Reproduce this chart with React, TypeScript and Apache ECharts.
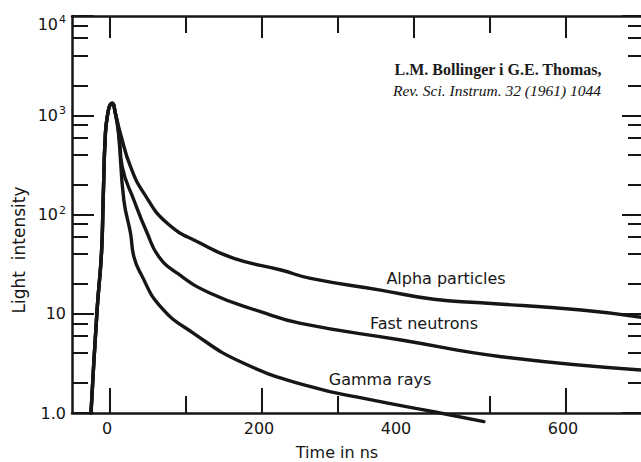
import React, { useEffect, useRef } from "react";
import * as echarts from "echarts";

// ---- data (time in ns, light intensity) ----
const riseT = [-25, -17, -11.2, -9, -6, -2.6, 0, 2.9];
const riseI = [1.0, 10.9, 40.9, 140, 662, 1070, 1268, 1320];

const alphaT = [7, 13.8, 27, 44.5, 75.4, 119, 163, 225, 264, 356, 426, 488, 620, 700];
const alphaI = [1050, 650, 303, 164, 81.5, 51.3, 36.2, 27.6, 22.7, 17.3, 14.0, 12.9, 10.9, 9.2];

const neutronT = [7, 11.9, 16.1, 31.4, 49, 64.3, 88.5, 132, 198, 251, 383, 515, 700];
const neutronI = [1050, 650, 303, 140, 64.7, 37.6, 25.6, 16.1, 10.5, 8.0, 5.44, 3.69, 2.71];

const gammaT = [7, 11.2, 18.2, 27, 31.4, 40.2, 66.5, 110, 176, 264, 339, 426, 492];
const gammaI = [1050, 650, 140, 64.7, 37.6, 25.6, 11.8, 6.35, 3.17, 1.84, 1.38, 1.03, 0.82];

const seriesNames = ["Alpha particles", "Fast neutrons", "Gamma rays"];

// ---- axes ----
const xLabels = [0, 200, 400, 600];
const xMinorTicks = [100, 300, 500];
const xBottomMajorTicks = [0, 200, 600];
const yMajor = [1, 10, 100, 1000, 10000];
const yLabelBase = ["1.0", "10", "10", "10", "10"];
const yLabelExp = ["", "", "2", "3", "4"];
const yMinorMult = [2, 4, 6, 8];

const xName = "Time in ns";
const yName = "Light  intensity";
const citation1 = "L.M. Bollinger i G.E. Thomas,";
const citation2 = "Rev. Sci. Instrum. 32 (1961) 1044";

const INK = "#161616";
const FONT = "DejaVu Sans";

function pairs(t: number[], v: number[]) {
  return t.map((x, i) => [x, v[i]]);
}

export default function App() {
  const ref = useRef<HTMLDivElement>(null);
  useEffect(() => {
    if (!ref.current) return;
    const chart = echarts.init(ref.current, undefined, { renderer: "svg" });
    const yMinor: number[] = [];
    yMajor.slice(0, -1).forEach((d) => yMinorMult.forEach((m) => yMinor.push(d * m)));

    const rise = pairs(riseT, riseI);
    const curves = [pairs(alphaT, alphaI), pairs(neutronT, neutronI), pairs(gammaT, gammaI)];

    const axisLine = { show: true, onZero: false, lineStyle: { color: INK, width: 2.5 } };
    const noLine = { show: false, onZero: false };
    const tickStyle = { color: INK, width: 2 };
    const xBase = { type: "value", min: -50, max: 700, gridIndex: 0, splitLine: { show: false } };
    const yBase = { type: "log", logBase: 10, min: 1, max: 10000, gridIndex: 0, splitLine: { show: false }, minorTick: { show: false } };

    const option: any = {
      animation: false,
      backgroundColor: "#ffffff",
      grid: { left: 72, right: -1, top: 16, bottom: 49, containLabel: false, outerBoundsMode: "none" },
      xAxis: [
        {
          ...xBase,
          position: "bottom",
          axisLine,
          axisTick: { show: true, inside: true, length: 25, customValues: xBottomMajorTicks, lineStyle: tickStyle },
          axisLabel: {
            show: true,
            customValues: xLabels,
            margin: 7,
            color: INK,
            fontSize: 16,
            fontFamily: FONT,
            formatter: (v: number) => (v === 400 ? `{w|${v}}` : `{n|${v}}`),
            rich: {
              n: { fontSize: 16, fontFamily: FONT, color: INK, padding: [0, 6, 0, 0] },
              w: { fontSize: 16, fontFamily: FONT, color: INK, padding: [0, 36, 0, 0] },
            },
          },
        },
        {
          ...xBase,
          position: "bottom",
          axisLine: noLine,
          axisTick: { show: true, inside: true, length: 17, customValues: xMinorTicks, lineStyle: tickStyle },
          axisLabel: { show: false },
        },
        {
          ...xBase,
          position: "top",
          axisLine,
          axisTick: { show: true, inside: true, length: 22, customValues: xLabels, lineStyle: tickStyle },
          axisLabel: { show: false },
        },
        {
          ...xBase,
          position: "top",
          axisLine: noLine,
          axisTick: { show: true, inside: true, length: 17, customValues: xMinorTicks, lineStyle: tickStyle },
          axisLabel: { show: false },
        },
      ],
      yAxis: [
        {
          ...yBase,
          position: "left",
          axisLine,
          axisTick: { show: true, inside: true, length: 22, customValues: yMajor, lineStyle: tickStyle },
          axisLabel: {
            show: true,
            customValues: yMajor,
            margin: 6,
            color: INK,
            fontSize: 16,
            fontFamily: FONT,
            formatter: (v: number) => {
              const i = yMajor.findIndex((m) => Math.abs(m - v) / m < 1e-6);
              if (i < 0) return "";
              const base = yLabelBase[i];
              const exp = yLabelExp[i];
              if (!exp) return base;
              const top = i === yMajor.length - 1;
              return top ? `{bt|${base}}{st|${exp}}` : `{b|${base}}{s|${exp}}`;
            },
            rich: {
              b: { fontSize: 16, fontFamily: FONT, color: INK },
              s: { fontSize: 11, fontFamily: FONT, color: INK, padding: [0, 0, 9, 1] },
              bt: { fontSize: 16, fontFamily: FONT, color: INK, padding: [16, 0, 0, 0] },
              st: { fontSize: 11, fontFamily: FONT, color: INK, padding: [16, 0, 9, 1] },
            },
          },
        },
        {
          ...yBase,
          position: "left",
          axisLine: noLine,
          axisTick: { show: true, inside: true, length: 16, customValues: yMinor, lineStyle: tickStyle },
          axisLabel: { show: false },
        },
        {
          ...yBase,
          position: "right",
          axisLine: noLine,
          axisTick: { show: true, inside: true, length: 20, customValues: yMajor, lineStyle: tickStyle },
          axisLabel: { show: false },
        },
        {
          ...yBase,
          position: "right",
          axisLine: noLine,
          axisTick: { show: true, inside: true, length: 14, customValues: yMinor, lineStyle: tickStyle },
          axisLabel: { show: false },
        },
      ],
      series: curves.map((c, i) => ({
        type: "line",
        name: seriesNames[i],
        xAxisIndex: 0,
        yAxisIndex: 0,
        data: [...rise, ...c],
        showSymbol: false,
        symbol: "none",
        smooth: 0.5,
        clip: false,
        lineStyle: { color: INK, width: 3.4, cap: "round", join: "round" },
        z: 3,
      })),
      graphic: [
        {
          type: "text",
          x: 446,
          y: 278,
          style: { text: seriesNames[0], font: `16px "${FONT}"`, fill: INK, align: "center", verticalAlign: "middle", textAlign: "center", textVerticalAlign: "middle" },
        },
        {
          type: "text",
          x: 424,
          y: 323,
          style: { text: seriesNames[1], font: `16px "${FONT}"`, fill: INK, align: "center", verticalAlign: "middle", textAlign: "center", textVerticalAlign: "middle" },
        },
        {
          type: "text",
          x: 380,
          y: 379,
          style: { text: seriesNames[2], font: `16px "${FONT}"`, fill: INK, align: "center", verticalAlign: "middle", textAlign: "center", textVerticalAlign: "middle" },
        },
        {
          type: "text",
          x: 337,
          y: 452,
          style: { text: xName, font: `16px "${FONT}"`, fill: INK, align: "center", verticalAlign: "middle", textAlign: "center", textVerticalAlign: "middle" },
        },
        {
          type: "text",
          x: 19,
          y: 250,
          rotation: Math.PI / 2,
          style: { text: yName, font: `17px "${FONT}"`, fill: INK, align: "center", verticalAlign: "middle", textAlign: "center", textVerticalAlign: "middle" },
        },
        {
          type: "text",
          x: 498,
          y: 69,
          style: { text: citation1, font: `bold 16px "Liberation Serif"`, fill: "#1a1a1a", align: "center", verticalAlign: "middle", textAlign: "center", textVerticalAlign: "middle" },
        },
        {
          type: "text",
          x: 497,
          y: 90,
          style: { text: citation2, font: `italic 15.5px "Liberation Serif"`, fill: "#111", align: "center", verticalAlign: "middle", textAlign: "center", textVerticalAlign: "middle" },
        },
      ],
    };
    chart.setOption(option);
    return () => chart.dispose();
  }, []);
  return (
    <div
      ref={ref}
      style={{ position: "absolute", left: 0, top: 0, width: 641, height: 462, background: "#fff" }}
    />
  );
}
